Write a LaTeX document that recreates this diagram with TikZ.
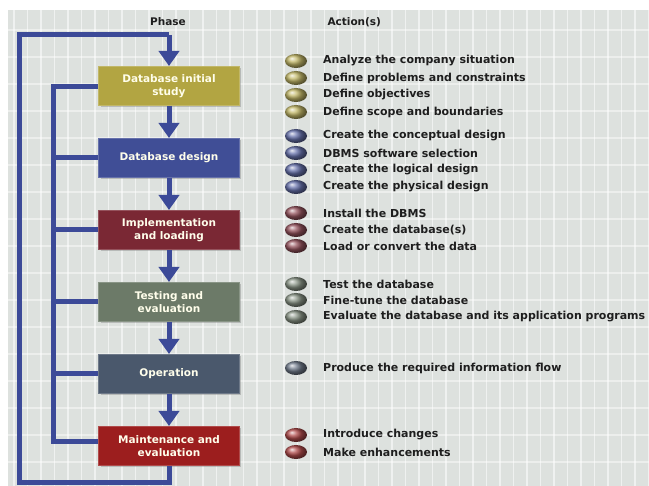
\documentclass[tikz,border=0pt]{standalone}
\usepackage{fontspec}
\setmainfont{DejaVu Sans}
\usetikzlibrary{arrows.meta,positioning,shapes.geometric,shadows}

\definecolor{flow}{RGB}{60,74,152}
\definecolor{paper}{RGB}{221,225,222}
\definecolor{ink}{RGB}{30,30,30}
\definecolor{cstudy}{RGB}{178,165,66}
\definecolor{cdesign}{RGB}{64,78,150}
\definecolor{cimpl}{RGB}{122,40,52}
\definecolor{ctest}{RGB}{108,122,104}
\definecolor{coper}{RGB}{74,88,108}
\definecolor{cmaint}{RGB}{156,30,30}

\tikzset{
  phase/.style={rectangle,fill=#1,draw=#1!80!white,line width=1pt,
    minimum width=140pt,minimum height=39pt,text width=134pt,align=center,
    text=white!92!yellow,font=\bfseries\fontsize{10.5}{13}\selectfont,
    drop shadow={shadow xshift=2pt,shadow yshift=-2pt,opacity=.4}},
  bullet/.style={ellipse,shading=ball,ball color=#1!80!white,minimum width=22pt,
    minimum height=14pt,inner sep=0pt},
  act/.style={anchor=west,inner sep=0pt,text=ink,font=\bfseries\fontsize{11}{13}\selectfont},
  head/.style={text=ink,font=\bfseries\fontsize{10.5}{12}\selectfont},
  link/.style={flow,line width=5pt},
  feed/.style={link,-{Triangle[width=20pt,length=15pt]}}
}

\begin{document}
\begin{tikzpicture}[x=1pt,y=-1pt,node distance=32pt]
\useasboundingbox (0,0) rectangle (649,486);
% backdrop with a faint grid
\fill[paper] (8,10) rectangle (649,486);
\foreach \gx in {14,27.5,...,649}
  \draw[white,opacity=.55,line width=1.2pt] (\gx,10) -- (\gx,486);
\foreach \gy in {30,57,...,486}
  \draw[white,opacity=.45,line width=1.2pt] (8,\gy) -- (649,\gy);

\node[head] (phasehd) at (168,22) {Phase};
\node[head,anchor=west] (acthd) at (324,22) {Action(s)};

% the phases
\node[phase=cstudy] (study) at (169,86) {Database initial\\study};
\node[phase=cdesign,below=of study] (design) {Database design};
\node[phase=cimpl,below=of design] (impl) {Implementation\\and loading};
\node[phase=ctest,below=of impl] (test) {Testing and\\evaluation};
\node[phase=coper,below=of test] (oper) {Operation};
\node[phase=cmaint,below=of oper] (maint) {Maintenance and\\evaluation};

\draw[feed] (study) -- (design);
\draw[feed] (design) -- (impl);
\draw[feed] (impl) -- (test);
\draw[feed] (test) -- (oper);
\draw[feed] (oper) -- (maint);

% feedback loops
\coordinate (outerbl) at (19,483);
\coordinate (outertl) at (19,35);
\coordinate (innertl) at (53,87);
\coordinate (innerbl) at (53,442);
\draw[link] (maint.south) |- (outerbl) -- (outertl) -- (outertl -| study.north);
\draw[feed] (outertl -| study.north) -- (study.north);
\draw[link] (study.west |- innertl) -- (innertl) -- (innerbl) -- (maint.west |- innerbl);
\foreach \p in {design,impl,test,oper}
  \draw[link] (\p.west) -- (\p.west -| innertl);

% actions
\foreach \y/\c/\t [count=\i] in {
  61/cstudy/Analyze the company situation,
  78/cstudy/Define problems and constraints,
  95/cstudy/Define objectives,
  112/cstudy/Define scope and boundaries,
  136/cdesign/Create the conceptual design,
  153/cdesign/DBMS software selection,
  170/cdesign/Create the logical design,
  187/cdesign/Create the physical design,
  213/cimpl/Install the DBMS,
  230/cimpl/Create the database(s),
  246/cimpl/Load or convert the data,
  284/ctest/Test the database,
  300/ctest/Fine-tune the database,
  317/ctest/Evaluate the database and its application programs,
  368/coper/Produce the required information flow,
  435/cmaint/Introduce changes,
  452/cmaint/Make enhancements}
{
  \node[bullet=\c] (dot\i) at (296,\y) {};
  \node[act] (act\i) at (323,\y) {\t};
}
\end{tikzpicture}
\end{document}
